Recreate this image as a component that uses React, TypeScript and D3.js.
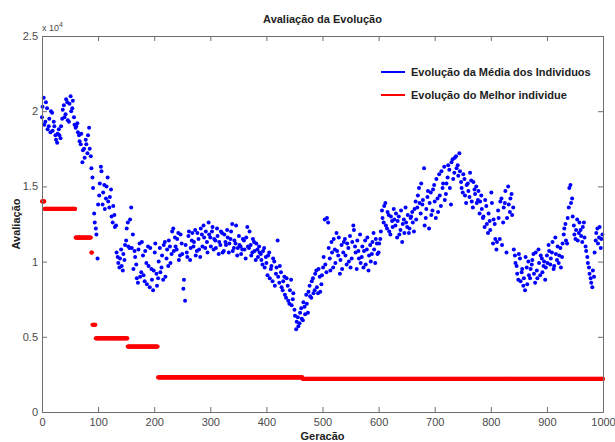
import React from "react";
import * as d3 from "d3";

const width = 615;
const height = 442;
const margin = { top: 36, right: 12, bottom: 30, left: 42 };
const font = "'Liberation Sans', Arial, sans-serif";
const axisColor = "#6e6e6e";
const textColor = "#4a4a4a";

const title = "Avaliação da Evolução";
const xLabel = "Geracão";
const yLabel = "Avaliação";
const legendLabels = ["Evolução da Média dos Individuos", "Evolução do Melhor individue"];
const legendColors = ["#0000ff", "#ff0000"];

const xTicks = [0, 100, 200, 300, 400, 500, 600, 700, 800, 900, 1000];
const yTicks = [0, 5, 10, 15, 20, 25]; // in thousands
const yTickLabels = ["0", "0.5", "1", "1.5", "2", "2.5"];

// mean of the population (thousands), read every 3 generations starting at gen 0 ...
const mediaStep = 3;
const mediaValues = [
  19.6, 20.9, 19.3, 20.2, 19.0, 18.6, 19.9, 19.3, 18.4, 17.9,
  18.8, 18.2, 19.5, 20.4, 19.8, 20.6, 19.3, 21.0, 20.2, 19.6,
  18.9, 19.2, 18.4, 17.8, 16.6, 17.5, 18.1, 17.2, 18.9, 17.0,
  15.6, 13.2, 12.2, 10.2, 14.4, 16.3, 13.8, 15.1, 14.2, 15.6,
  13.6, 14.8, 12.6, 13.1, 12.4, 10.3, 9.6, 10.8, 9.4, 10.1,
  11.4, 12.6, 10.9, 13.6, 11.8, 10.7, 9.8, 8.6, 11.2, 9.3,
  10.4, 8.7, 9.9, 11.0, 8.3, 9.5, 8.1, 10.6, 9.2, 8.9,
  10.9, 9.6, 8.8, 11.3, 10.2, 9.7, 11.0, 10.5, 12.2, 11.6,
  10.8, 11.9, 10.4, 11.2, 8.2, 7.4, 10.6, 11.7, 10.1, 11.4,
  11.0, 12.1, 10.7, 11.5, 10.3, 11.8, 12.4, 10.9, 11.3, 12.6,
  11.6, 12.0, 10.8, 11.4, 12.2, 10.5, 11.1, 11.9, 10.7, 11.3,
  12.1, 10.6, 11.5, 12.5, 10.9, 11.2, 10.4, 11.7, 11.0, 10.8,
  11.4, 10.2, 12.3, 10.9, 11.1, 10.6, 11.3, 10.1, 10.8, 11.0,
  10.5, 9.8, 10.9, 10.3, 9.1, 10.6, 9.5, 8.7, 10.0, 9.2,
  11.4, 8.6, 9.3, 8.1, 9.0, 7.6, 8.4, 7.2, 8.8, 7.5,
  6.8, 5.5, 6.3, 5.9, 6.9, 6.1, 7.0, 7.8, 6.6, 8.4,
  7.6, 8.9, 8.1, 9.4, 7.9, 9.0, 8.5, 9.6, 12.8, 9.3,
  12.6, 10.2, 11.3, 9.6, 10.8, 11.9, 10.4, 9.2, 11.1, 10.6,
  11.5, 9.8, 10.9, 11.7, 10.2, 12.4, 11.0, 9.5, 10.7, 11.8,
  10.3, 9.6, 11.4, 10.8, 9.4, 11.1, 10.5, 11.9, 9.9, 11.2,
  10.6, 11.5, 13.4, 12.6, 13.9, 12.2, 13.1, 11.8, 12.7, 13.5,
  12.4, 11.6, 13.0, 12.1, 11.3, 12.8, 13.6, 12.3, 11.9, 12.9,
  13.3, 12.0, 14.0, 13.6, 14.9, 13.2, 13.8, 16.2, 12.9, 14.3,
  12.2, 14.6, 13.4, 15.1, 12.9, 14.2, 15.8, 13.7, 14.9, 16.3,
  14.5, 15.6, 16.1, 13.8, 16.8, 15.9, 17.0, 16.4, 17.2, 15.3,
  14.6, 15.5, 13.9, 15.2, 14.3, 15.4, 13.6, 14.8, 15.0, 14.1,
  13.2, 14.4, 12.9, 12.3, 13.7, 11.9, 12.7, 14.6, 11.2, 12.5,
  10.8, 13.4, 11.5, 14.2, 12.6, 13.9, 10.6, 15.0, 13.3, 14.5,
  13.6, 10.4, 9.7, 8.8, 10.2, 9.3, 8.4, 8.1, 9.6, 10.0,
  8.9, 9.8, 10.5, 8.6, 9.4, 10.8, 9.1, 10.2, 9.7, 8.8,
  10.4, 11.1, 9.8, 10.6, 9.5, 11.6, 10.1, 9.9, 10.9, 10.3,
  11.8, 12.5, 11.2, 13.6, 15.1, 14.2, 12.4, 11.5, 12.8, 11.9,
  12.1, 11.3, 12.6, 11.0, 10.3, 9.6, 8.9, 8.3, 9.0, 11.4,
  12.2, 11.6, 10.9, 11.8,
];
// ... and every 3 generations starting at gen 1
const mediaValuesB = [
  20.3, 19.1, 20.6, 18.8, 19.5, 20.0, 18.7, 19.0, 18.1, 18.5,
  18.4, 19.0, 20.1, 19.6, 20.8, 19.4, 20.5, 20.0, 20.7, 19.1,
  19.0, 18.6, 18.0, 18.5, 17.4, 16.9, 17.8, 18.4, 17.5, 16.2,
  14.9, 12.6, 11.8, 13.8, 15.2, 16.0, 14.6, 13.5, 15.0, 14.0,
  14.3, 13.0, 13.7, 12.3, 10.6, 9.9, 10.2, 9.7, 10.5, 11.1,
  12.2, 11.0, 12.8, 10.9, 9.5, 10.3, 8.9, 10.8, 9.0, 11.3,
  9.1, 10.7, 8.5, 9.7, 10.9, 8.8, 9.4, 11.2, 8.4, 10.0,
  9.3, 10.4, 11.1, 9.0, 10.8, 11.4, 9.9, 12.0, 10.7, 11.0,
  11.5, 10.1, 11.8, 10.5, 8.8, 11.1, 10.3, 12.0, 10.9, 11.9,
  11.3, 10.4, 11.9, 10.8, 12.2, 11.0, 11.6, 12.0, 10.6, 11.8,
  11.0, 12.3, 11.5, 10.9, 11.7, 11.3, 12.0, 10.6, 11.8, 11.1,
  11.6, 11.2, 12.0, 10.7, 11.4, 12.4, 10.9, 11.1, 10.5, 11.5,
  10.8, 11.6, 11.0, 12.0, 10.4, 11.5, 10.7, 11.2, 10.3, 10.6,
  10.1, 10.7, 9.6, 9.9, 10.4, 8.9, 9.7, 10.2, 8.4, 9.6,
  9.0, 9.7, 8.3, 8.7, 7.8, 8.9, 7.4, 8.1, 7.1, 7.9,
  6.4, 6.0, 5.7, 6.6, 6.2, 7.3, 6.5, 7.2, 8.0, 7.7,
  8.7, 7.9, 9.2, 8.3, 9.5, 8.0, 9.1, 10.3, 9.8, 12.9,
  10.9, 9.4, 10.6, 11.5, 9.9, 10.7, 11.6, 10.1, 9.5, 11.3,
  10.4, 11.2, 10.0, 9.6, 11.3, 12.1, 10.6, 11.4, 10.2, 9.9,
  11.0, 10.7, 9.8, 11.6, 10.4, 10.0, 11.3, 10.8, 11.5, 10.5,
  11.2, 12.0, 12.9, 13.7, 12.4, 13.3, 12.0, 13.0, 12.3, 12.8,
  13.2, 12.7, 11.8, 13.4, 12.5, 11.9, 12.6, 13.1, 12.2, 13.0,
  12.6, 13.5, 12.8, 14.4, 13.9, 15.2, 14.1, 12.4, 13.5, 14.7,
  13.9, 13.1, 14.8, 14.0, 15.5, 13.3, 14.4, 16.0, 15.2, 14.1,
  15.2, 16.4, 14.9, 16.6, 15.5, 16.9, 16.2, 15.7, 16.0, 14.9,
  15.8, 14.4, 15.1, 14.7, 15.9, 14.0, 15.3, 14.5, 13.9, 14.7,
  14.0, 13.5, 13.0, 14.1, 12.5, 13.2, 12.1, 13.9, 12.8, 11.5,
  11.3, 12.9, 14.0, 11.1, 13.6, 14.7, 12.9, 13.8, 14.2, 13.1,
  10.8, 9.9, 9.2, 10.5, 8.7, 9.5, 8.9, 10.3, 8.5, 9.1,
  9.5, 10.1, 9.2, 10.6, 8.9, 9.9, 10.4, 9.3, 10.0, 9.6,
  9.9, 10.7, 10.2, 11.3, 9.7, 10.5, 11.0, 10.4, 9.6, 11.2,
  12.2, 11.4, 12.9, 14.9, 13.9, 13.0, 11.8, 12.1, 11.4, 12.6,
  11.7, 12.3, 11.6, 10.7, 9.9, 9.2, 8.6, 9.4, 10.6, 11.9,
  11.2, 12.3, 11.5,
];

// best individual: the generation each level starts at, and its value (thousands)
const bestStart = [0, 5, 60, 88, 90, 96, 153, 207, 465];
const bestValue = [14.0, 13.5, 11.6, 10.6, 5.8, 4.9, 4.35, 2.3, 2.2];
const lastGen = 1000;

export default function App() {
  const xAxisRef = React.useRef(null);
  const yAxisRef = React.useRef(null);
  const topAxisRef = React.useRef(null);
  const rightAxisRef = React.useRef(null);

  const x = d3.scaleLinear().domain([0, 1000]).range([margin.left, width - margin.right]);
  const y = d3.scaleLinear().domain([0, 25]).range([height - margin.bottom, margin.top]);

  const media = mediaValues.map((v, i) => ({ g: i * mediaStep, v }))
    .concat(mediaValuesB.map((v, i) => ({ g: i * mediaStep + 1, v })));

  const best = d3.range(0, lastGen + 1).map(g => {
    const idx = d3.bisectRight(bestStart, g) - 1;
    return { g, v: bestValue[idx] };
  });

  React.useEffect(() => {
    const style = (g) => {
      g.attr("font-family", font).attr("font-size", 11);
      g.select(".domain").attr("stroke", axisColor);
      g.selectAll(".tick line").attr("stroke", axisColor);
      g.selectAll(".tick text").attr("fill", textColor);
    };
    const xAxis = d3.axisBottom(x).tickValues(xTicks).tickFormat(d3.format("d"))
      .tickSizeInner(-5).tickSizeOuter(0).tickPadding(6);
    d3.select(xAxisRef.current).call(xAxis).call(style);
    const yAxis = d3.axisLeft(y).tickValues(yTicks).tickFormat((d, i) => yTickLabels[i])
      .tickSizeInner(-5).tickSizeOuter(0).tickPadding(4);
    d3.select(yAxisRef.current).call(yAxis).call(style);
    const topAxis = d3.axisTop(x).tickValues(xTicks).tickFormat(() => "").tickSizeInner(-5).tickSizeOuter(0);
    d3.select(topAxisRef.current).call(topAxis).call(style);
    const rightAxis = d3.axisRight(y).tickValues(yTicks).tickFormat(() => "").tickSizeInner(-5).tickSizeOuter(0);
    d3.select(rightAxisRef.current).call(rightAxis).call(style);
  }, []);

  const cx = (margin.left + width - margin.right) / 2;
  const cy = (margin.top + height - margin.bottom) / 2;

  return (
    <div style={{ position: "absolute", left: 0, top: 0 }}>
      <svg width={width} height={height} style={{ display: "block", background: "#fff" }}>
        {best.map(d => (
          <circle key={"b" + d.g} cx={x(d.g)} cy={y(d.v)} r={2.1} fill="#ff0000" />
        ))}
        {media.map(d => (
          <circle key={"m" + d.g} cx={x(d.g)} cy={y(d.v)} r={2} fill="#0000ff" />
        ))}
        <g ref={xAxisRef} transform={`translate(0, ${height - margin.bottom})`} />
        <g ref={yAxisRef} transform={`translate(${margin.left}, 0)`} />
        <g ref={topAxisRef} transform={`translate(0, ${margin.top})`} />
        <g ref={rightAxisRef} transform={`translate(${width - margin.right}, 0)`} />

        <text x={cx} y={23} textAnchor="middle" fontFamily={font} fontSize={11} fontWeight="bold" fill="#222">{title}</text>
        <text x={cx} y={440} textAnchor="middle" fontFamily={font} fontSize={11} fontWeight="bold" fill="#222">{xLabel}</text>
        <text transform={`translate(20, ${cy}) rotate(-90)`} textAnchor="middle" fontFamily={font} fontSize={11} fontWeight="bold" fill="#222">{yLabel}</text>
        <text x={margin.left} y={31} fontFamily={font} fontSize={9} fill={textColor}>
          x 10<tspan dy={-4} fontSize={7}>4</tspan>
        </text>

        {legendLabels.map((label, i) => (
          <g key={label} transform={`translate(381, ${72 + i * 23})`}>
            <line x1={0} x2={24} y1={0} y2={0} stroke={legendColors[i]} strokeWidth={2} />
            <text x={30} y={4} fontFamily={font} fontSize={11} fontWeight="bold" fill="#222">{label}</text>
          </g>
        ))}
      </svg>
    </div>
  );
}
